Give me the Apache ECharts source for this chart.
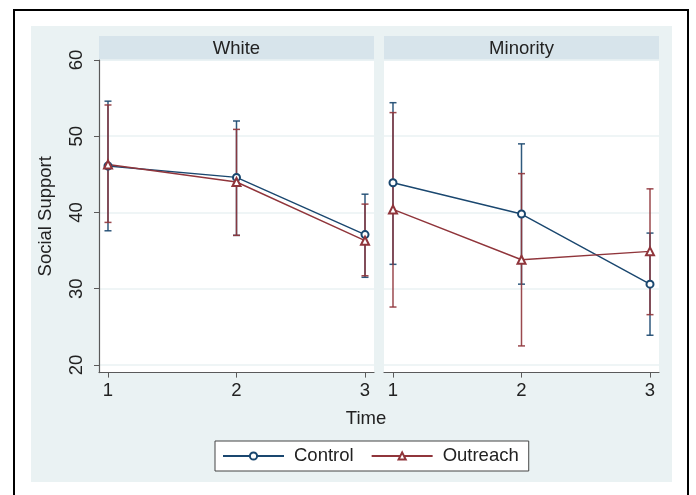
<!DOCTYPE html>
<html>
<head>
<meta charset="utf-8">
<script src="https://cdn.jsdelivr.net/npm/echarts@6/dist/echarts.min.js"></script>
<style>
  html, body { margin: 0; padding: 0; background: #fff; }
  #wrap { position: relative; width: 696px; height: 495px; overflow: hidden; }
  #frame { position: absolute; left: 13px; top: 9px; width: 672px; height: 520px; border: 2.5px solid #000; }
  #region { position: absolute; left: 31px; top: 26px; width: 641px; height: 456px; background: #eaf2f3; }
  #chart { position: absolute; left: 0; top: 0; width: 696px; height: 495px; }
</style>
</head>
<body>
<div id="wrap">
  <div id="frame"></div>
  <div id="region"></div>
  <div id="chart"></div>
</div>
<script>
// Data
const times = [1, 2, 3]
const panels = ['White', 'Minority']
const yTicks = [20, 30, 40, 50, 60]

const whiteControlMean = [46.1, 44.6, 37.1]
const whiteControlLow = [37.6, 37.0, 31.5]
const whiteControlHigh = [54.6, 52.0, 42.4]
const whiteOutreachMean = [46.3, 44.0, 36.3]
const whiteOutreachLow = [38.7, 37.0, 31.7]
const whiteOutreachHigh = [54.1, 50.9, 41.1]

const minorityControlMean = [43.9, 39.8, 30.6]
const minorityControlLow = [33.2, 30.6, 23.9]
const minorityControlHigh = [54.4, 49.0, 37.3]
const minorityOutreachMean = [40.4, 33.8, 34.9]
const minorityOutreachLow = [27.6, 22.5, 26.6]
const minorityOutreachHigh = [53.1, 45.1, 43.1]

const NAVY = '#1a476f'
const MAROON = '#90353b'
const FONT = '"Liberation Sans", Arial, sans-serif'
const TEXT = '#222'
const AXIS = '#5a5a5a'

const chart = echarts.init(document.getElementById('chart'))

// error bars with caps, positioned through the axis scales
const errorBars = (color) => (params, api) => {
    const x = api.value(0)
    const top = api.coord([x, api.value(2)])
    const bot = api.coord([x, api.value(1)])
    const w = 3.5
    const style = { stroke: color, lineWidth: 1.5, opacity: 0.9 }
    return {
        type: 'group',
        children: [
            { type: 'line', shape: { x1: top[0], y1: top[1], x2: bot[0], y2: bot[1] }, style },
            { type: 'line', shape: { x1: top[0] - w, y1: top[1], x2: top[0] + w, y2: top[1] }, style },
            { type: 'line', shape: { x1: bot[0] - w, y1: bot[1], x2: bot[0] + w, y2: bot[1] }, style }
        ]
    }
}

const ciData = (low, high) => times.map((t, i) => [t, low[i], high[i]])
const meanData = (mean) => times.map((t, i) => [t, mean[i]])

const barSeries = (name, idx, color, low, high) => ({
    name: name + ' CI',
    type: 'custom',
    xAxisIndex: idx,
    yAxisIndex: idx,
    renderItem: errorBars(color),
    encode: { x: 0, y: [1, 2] },
    data: ciData(low, high),
    z: 1
})

const lineSeries = (name, idx, color, symbol, size, mean) => ({
    name,
    type: 'line',
    xAxisIndex: idx,
    yAxisIndex: idx,
    data: meanData(mean),
    symbol,
    symbolSize: size,
    showAllSymbol: true,
    lineStyle: { color, width: 1.4 },
    itemStyle: { color, borderWidth: 1.5 },
    z: 3
})

const xAxisFor = (idx) => ({
    type: 'value',
    gridIndex: idx,
    min: 0.93,
    max: 3.07,
    axisLine: { show: true, lineStyle: { color: AXIS, width: 1.2 } },
    axisTick: { show: true, length: 5, customValues: times, lineStyle: { color: AXIS } },
    axisLabel: { customValues: times, fontSize: 18.5, fontFamily: FONT, color: TEXT, margin: 9 },
    splitLine: { show: false }
})

const yAxisFor = (idx) => ({
    type: 'value',
    gridIndex: idx,
    min: 19,
    max: 60,
    name: idx === 0 ? 'Social Support' : '',
    nameLocation: 'middle',
    nameGap: 44,
    nameTextStyle: { fontSize: 18.5, fontFamily: FONT, color: TEXT },
    axisLine: { show: idx === 0, lineStyle: { color: AXIS, width: 1.2 } },
    axisTick: { show: idx === 0, length: 5, customValues: yTicks, lineStyle: { color: AXIS } },
    axisLabel: {
        show: idx === 0, customValues: yTicks, rotate: 90,
        fontSize: 18.5, fontFamily: FONT, color: TEXT, margin: 13
    },
    splitLine: { show: true, lineStyle: { color: '#eaf2f3', width: 1.5 } }
})

const stripFor = (left, label) => ({
    type: 'group',
    left: left,
    top: 36,
    children: [
        { type: 'rect', shape: { x: 0, y: 0, width: 275, height: 24.5 }, style: { fill: '#d7e4eb' } },
        {
            type: 'text', x: 137.5, y: 12.5,
            style: { text: label, fontSize: 18.5, fontFamily: FONT, fill: TEXT, align: 'center', verticalAlign: 'middle' }
        }
    ]
})

const options = {
    animation: false,
    backgroundColor: 'transparent',
    grid: [
        { left: 99, top: 60, width: 275, height: 312.6, show: true, backgroundColor: '#fff', borderWidth: 0 },
        { left: 384, top: 60, width: 275, height: 312.6, show: true, backgroundColor: '#fff', borderWidth: 0 }
    ],
    xAxis: [xAxisFor(0), xAxisFor(1)],
    yAxis: [yAxisFor(0), yAxisFor(1)],
    legend: {
        data: ['Control', 'Outreach'],
        left: 215,
        top: 441,
        orient: 'horizontal',
        itemWidth: 61,
        itemHeight: 9,
        itemGap: 17,
        padding: [5, 10, 5, 7],
        backgroundColor: '#fff',
        borderColor: '#444',
        borderWidth: 1,
        borderRadius: 0,
        textStyle: { fontSize: 18.5, fontFamily: FONT, color: TEXT, lineHeight: 20, padding: [0, 0, 0, 5] }
    },
    graphic: [
        stripFor(99, panels[0]),
        stripFor(384, panels[1]),
        {
            type: 'text', x: 366, y: 419,
            style: { text: 'Time', fontSize: 18.5, fontFamily: FONT, fill: TEXT, align: 'center', verticalAlign: 'middle' }
        }
    ],
    series: [
        barSeries('Control', 0, NAVY, whiteControlLow, whiteControlHigh),
        barSeries('Outreach', 0, MAROON, whiteOutreachLow, whiteOutreachHigh),
        barSeries('Control', 1, NAVY, minorityControlLow, minorityControlHigh),
        barSeries('Outreach', 1, MAROON, minorityOutreachLow, minorityOutreachHigh),
        lineSeries('Control', 0, NAVY, 'emptyCircle', 7, whiteControlMean),
        lineSeries('Outreach', 0, MAROON, 'emptyTriangle', 8, whiteOutreachMean),
        lineSeries('Control', 1, NAVY, 'emptyCircle', 7, minorityControlMean),
        lineSeries('Outreach', 1, MAROON, 'emptyTriangle', 8, minorityOutreachMean)
    ]
}
chart.setOption(options)
</script>
</body>
</html>
